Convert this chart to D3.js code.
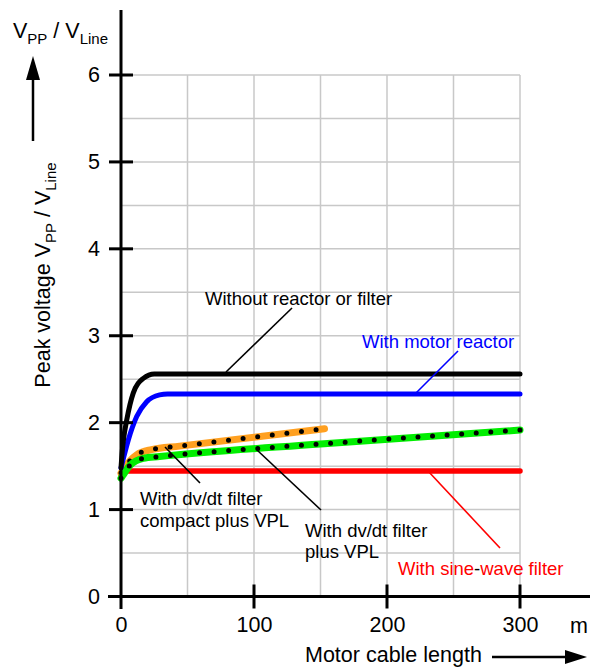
<!DOCTYPE html>
<html><head><meta charset="utf-8">
<script src="https://cdn.jsdelivr.net/npm/d3@7"></script>
<style>body{margin:0;background:#fff}svg{display:block;font-family:"Liberation Sans",Arial,sans-serif}</style>
</head><body><svg id="c" width="592" height="668"></svg>
<script>
// ---- data ----
const xTicks = [0, 100, 200, 300];
const yTicks = [0, 1, 2, 3, 4, 5, 6];
const xGrid = [50, 100, 150, 200, 250, 300];
const yGrid = [0.5, 1, 1.5, 2, 2.5, 3, 3.5, 4, 4.5, 5, 5.5, 6];

const blackX = [0, 1, 2, 4.3, 9.2, 16.8, 25, 300];
const blackY = [1.48, 1.68, 1.82, 2.03, 2.34, 2.51, 2.56, 2.56];
const blueX = [0, 2, 5.5, 11.8, 19.3, 29, 35, 300];
const blueY = [1.48, 1.6, 1.80, 2.07, 2.24, 2.32, 2.33, 2.33];
const orangeX = [0, 3, 11.8, 23, 44, 153];
const orangeY = [1.42, 1.49, 1.63, 1.69, 1.73, 1.93];
const greenX = [0, 1.3, 6.8, 16.7, 29, 150, 300];
const greenY = [1.36, 1.39, 1.51, 1.59, 1.61, 1.755, 1.915];
const redX = [0, 3, 300];
const redY = [1.40, 1.444, 1.444];

// ---- layout ----
const svg = d3.select("#c");
const x = d3.scaleLinear().domain([0, 300]).range([121, 520]);
const y = d3.scaleLinear().domain([0, 6]).range([596.5, 75]);

// grid
svg.append("g").selectAll("line").data(xGrid).join("line")
  .attr("x1", d => x(d)).attr("x2", d => x(d)).attr("y1", y(0)).attr("y2", y(6))
  .attr("stroke", "#c8c8c8").attr("stroke-width", 1.5);
svg.append("g").selectAll("line").data(yGrid).join("line")
  .attr("x1", x(0)).attr("x2", x(300)).attr("y1", d => y(d)).attr("y2", d => y(d))
  .attr("stroke", "#c8c8c8").attr("stroke-width", 1.5);

// curves
const line = d3.line().x(d => x(d[0])).y(d => y(d[1])).curve(d3.curveMonotoneX);
const pts = (xs, ys) => xs.map((v, i) => [v, ys[i]]);
function curve(xs, ys, color, w) {
  return svg.append("path").attr("d", line(pts(xs, ys))).attr("fill", "none")
    .attr("stroke", color).attr("stroke-width", w).attr("stroke-linecap", "round");
}
curve(redX, redY, "#ff0000", 5.5);
curve(orangeX, orangeY, "#ffa020", 7);
curve(orangeX, orangeY, "#000", 5).attr("stroke-dasharray", "0 14.7");
curve(greenX, greenY, "#00ee00", 7);
curve(greenX, greenY, "#000", 5).attr("stroke-dasharray", "0 14.6");
curve(blueX, blueY, "#0000ff", 5);
curve(blackX, blackY, "#000", 5);

// axes
svg.append("line").attr("x1", x(0)).attr("x2", x(0)).attr("y1", 10).attr("y2", 609)
  .attr("stroke", "#000").attr("stroke-width", 3);
svg.append("line").attr("x1", 108).attr("x2", 590).attr("y1", y(0)).attr("y2", y(0))
  .attr("stroke", "#000").attr("stroke-width", 3);
svg.append("g").selectAll("line").data(yTicks.filter(d => d > 0)).join("line")
  .attr("x1", x(0) - 12).attr("x2", x(0) + 12).attr("y1", d => y(d)).attr("y2", d => y(d))
  .attr("stroke", "#000").attr("stroke-width", 3);
svg.append("g").selectAll("line").data(xTicks.filter(d => d > 0)).join("line")
  .attr("x1", d => x(d)).attr("x2", d => x(d)).attr("y1", y(0) - 12).attr("y2", y(0) + 12)
  .attr("stroke", "#000").attr("stroke-width", 3);

const ya = svg.append("g").attr("transform", `translate(${x(0)},0)`)
  .call(d3.axisLeft(y).tickValues(yTicks).tickSize(0).tickPadding(21).tickFormat(d3.format("d")));
const xa = svg.append("g").attr("transform", `translate(0,${y(0)})`)
  .call(d3.axisBottom(x).tickValues(xTicks).tickSize(0).tickPadding(20).tickFormat(d3.format("d")));
[ya, xa].forEach(a => {
  a.select(".domain").remove();
  a.selectAll("text").attr("font-size", 21.5).attr("fill", "#000")
    .attr("font-family", "Liberation Sans, Arial, sans-serif");
});

const T = (txt, px, py, color, size) => svg.append("text").attr("x", px).attr("y", py)
  .attr("fill", color || "#000").attr("font-size", size || 18.5).text(txt);

// x axis title
T("m", 570, 633, "#000", 21.5);
T("Motor cable length", 305, 662, "#000", 21.5);
svg.append("line").attr("x1", 492).attr("x2", 570).attr("y1", 657).attr("y2", 657)
  .attr("stroke", "#000").attr("stroke-width", 2.5);
svg.append("path").attr("d", "M587,657 L565,650 L565,664 Z").attr("fill", "#000");

// y axis top label
const tl = svg.append("text").attr("x", 13).attr("y", 38).attr("font-size", 21.5).attr("fill", "#000");
tl.append("tspan").text("V");
tl.append("tspan").attr("font-size", 15).attr("dy", 6).text("PP");
tl.append("tspan").attr("dy", -6).text(" / V");
tl.append("tspan").attr("font-size", 15).attr("dy", 6).text("Line");

// rotated y label
const yl = svg.append("text").attr("transform", "translate(50,275) rotate(-90)")
  .attr("text-anchor", "middle").attr("font-size", 21.5).attr("fill", "#000");
yl.append("tspan").text("Peak voltage V");
yl.append("tspan").attr("font-size", 15).attr("dy", 6).text("PP");
yl.append("tspan").attr("dy", -6).text(" / V");
yl.append("tspan").attr("font-size", 15).attr("dy", 6).text("Line");
svg.append("line").attr("x1", 33).attr("x2", 33).attr("y1", 141).attr("y2", 76)
  .attr("stroke", "#000").attr("stroke-width", 2.5);
svg.append("path").attr("d", "M33,56 L26,80 L40,80 Z").attr("fill", "#000");

// annotations
const L = (x1, y1, x2, y2, c) => svg.append("line").attr("x1", x1).attr("y1", y1)
  .attr("x2", x2).attr("y2", y2).attr("stroke", c).attr("stroke-width", 1.6);
T("Without reactor or filter", 205, 305);
L(292, 308, 226, 372, "#000");
T("With motor reactor", 362, 348, "#0000ff");
L(458, 351, 416, 393, "#0000ff");
T("With dv/dt filter", 140, 505);
T("compact plus VPL", 140, 527);
L(200, 483, 165, 447, "#000");
T("With dv/dt filter", 305, 537);
T("plus VPL", 305, 558);
L(321, 510, 257, 450, "#000");
const sw = T("", 398, 575, "#ff0000");
sw.append("tspan").text("With sine");
sw.append("tspan").attr("fill", "#000").text("-");
sw.append("tspan").text("wave filter");
L(428, 471, 500, 548, "#ff0000");
</script></body></html>
